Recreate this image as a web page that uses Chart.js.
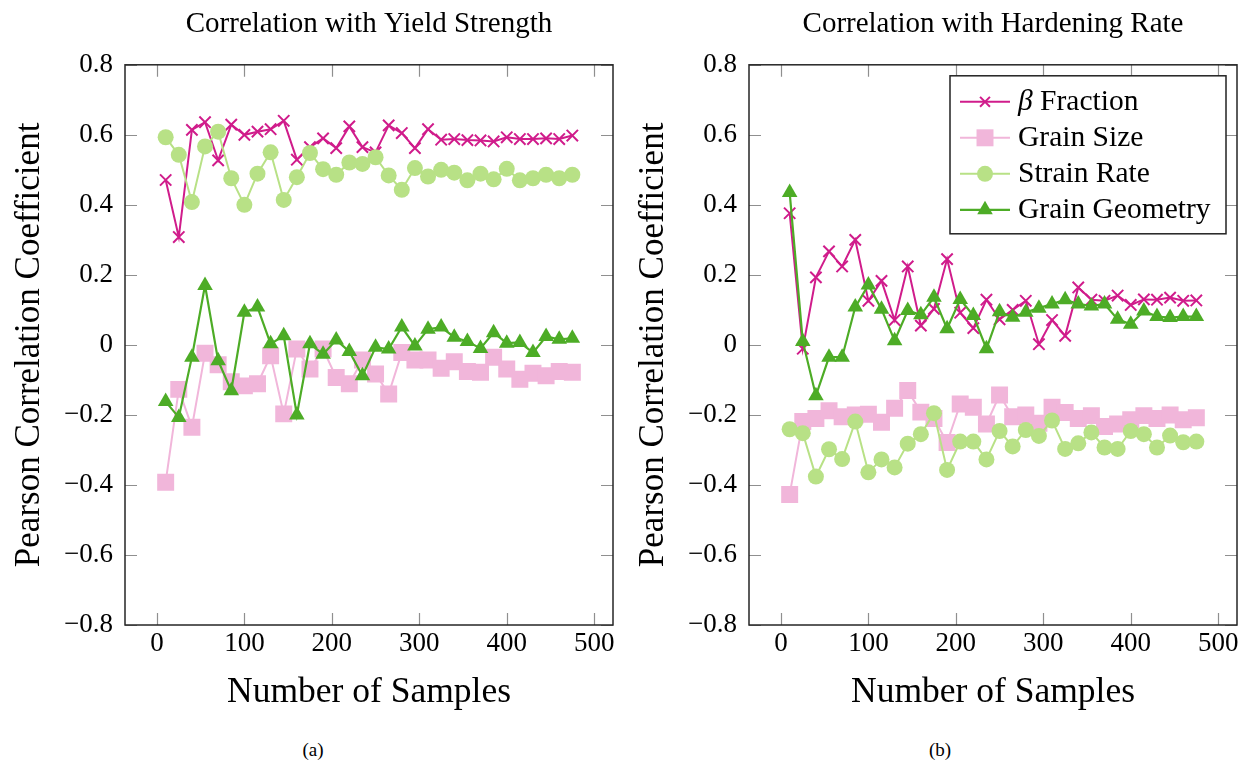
<!DOCTYPE html>
<html lang="en">
<head>
    <meta charset="UTF-8">
    <title>Correlation vs Number of Samples</title>
    <script src="https://cdn.jsdelivr.net/npm/chart.js"></script>
    <style>
        body { margin: 0; background: #fff; width: 1250px; height: 769px; position: relative; overflow: hidden; font-family: "Liberation Serif", serif; }
        .panel { position: absolute; top: 0; width: 625px; height: 720px; }
        .caption { position: absolute; top: 739px; width: 60px; margin-left: -30px; text-align: center; font-size: 19px; color: #000; }
    </style>
</head>
<body>
    <div class="panel" style="left:0"><canvas id="yieldChart"></canvas></div>
    <div class="panel" style="left:624px"><canvas id="hardeningChart"></canvas></div>
    <div class="caption" style="left:313px">(a)</div>
    <div class="caption" style="left:940px">(b)</div>

    <script>
        // x values (number of samples)
        const samples = [10, 25, 40, 55, 70, 85, 100, 115, 130, 145, 160, 175, 190, 205, 220, 235,
                         250, 265, 280, 295, 310, 325, 340, 355, 370, 385, 400, 415, 430, 445, 460, 475];
        const xTicks = [0, 100, 200, 300, 400, 500];
        const yTicks = [-0.8, -0.6, -0.4, -0.2, 0, 0.2, 0.4, 0.6, 0.8];
        const seriesNames = ['β Fraction', 'Grain Size', 'Strain Rate', 'Grain Geometry'];

        // (a) correlation with yield strength
        const yieldBeta = [0.471, 0.308, 0.614, 0.636, 0.527, 0.629, 0.600, 0.609, 0.616, 0.640, 0.529, 0.565, 0.590, 0.562, 0.624, 0.565,
                           0.550, 0.627, 0.605, 0.562, 0.616, 0.586, 0.588, 0.585, 0.584, 0.581, 0.593, 0.588, 0.588, 0.590, 0.588, 0.598];
        const yieldSize = [-0.392, -0.127, -0.235, -0.024, -0.057, -0.105, -0.117, -0.111, -0.031, -0.197, -0.012, -0.069, -0.012, -0.093, -0.111, -0.043,
                           -0.083, -0.140, -0.022, -0.043, -0.043, -0.067, -0.048, -0.076, -0.078, -0.035, -0.069, -0.098, -0.081, -0.088, -0.076, -0.078];
        const yieldRate = [0.593, 0.543, 0.408, 0.567, 0.609, 0.476, 0.400, 0.489, 0.550, 0.414, 0.479, 0.548, 0.502, 0.486, 0.521, 0.517,
                           0.536, 0.484, 0.443, 0.505, 0.481, 0.500, 0.492, 0.470, 0.489, 0.473, 0.503, 0.470, 0.476, 0.486, 0.476, 0.486];
        const yieldGeom = [-0.162, -0.207, -0.035, 0.170, -0.045, -0.131, 0.093, 0.108, 0.003, 0.026, -0.200, 0.003, -0.027, 0.014, -0.019, -0.088,
                           -0.007, -0.012, 0.051, -0.003, 0.045, 0.051, 0.022, 0.010, -0.010, 0.035, 0.005, 0.007, -0.022, 0.024, 0.016, 0.019];

        // (b) correlation with hardening rate
        const hardBeta = [0.376, -0.011, 0.193, 0.267, 0.224, 0.300, 0.126, 0.183, 0.071, 0.224, 0.055, 0.103, 0.245, 0.092, 0.048, 0.129,
                          0.073, 0.100, 0.126, 0.002, 0.071, 0.026, 0.164, 0.129, 0.126, 0.141, 0.114, 0.130, 0.129, 0.135, 0.126, 0.127];
        const hardSize = [-0.427, -0.219, -0.210, -0.188, -0.205, -0.200, -0.198, -0.221, -0.181, -0.130, -0.192, -0.210, -0.279, -0.169, -0.178, -0.226,
                          -0.143, -0.205, -0.200, -0.224, -0.178, -0.193, -0.210, -0.202, -0.233, -0.226, -0.214, -0.202, -0.210, -0.200, -0.214, -0.208];
        const hardRate = [-0.241, -0.252, -0.376, -0.298, -0.326, -0.219, -0.364, -0.327, -0.350, -0.282, -0.255, -0.195, -0.357, -0.276, -0.276, -0.327,
                          -0.246, -0.290, -0.243, -0.260, -0.216, -0.297, -0.281, -0.250, -0.293, -0.297, -0.246, -0.255, -0.293, -0.259, -0.278, -0.276];
        const hardGeom = [0.435, 0.010, -0.145, -0.035, -0.035, 0.108, 0.171, 0.102, 0.012, 0.098, 0.086, 0.136, 0.046, 0.130, 0.084, -0.011,
                          0.095, 0.079, 0.093, 0.105, 0.117, 0.129, 0.117, 0.111, 0.117, 0.073, 0.059, 0.097, 0.081, 0.078, 0.081, 0.081];

        const FONT = '"Liberation Serif", "Times New Roman", serif';
        const styles = [
            { color: '#d01c8b', pointStyle: 'crossRot', radius: 8, pointBorderWidth: 2, lineWidth: 2, order: 4 },
            { color: '#f1b6da', pointStyle: 'rect', radius: 12, pointBorderWidth: 0, lineWidth: 2, order: 3 },
            { color: '#b8e186', pointStyle: 'circle', radius: 8, pointBorderWidth: 0, lineWidth: 2, order: 2 },
            { color: '#4dac26', pointStyle: 'triangle', radius: 9, pointBorderWidth: 0, lineWidth: 2.2, order: 1 }
        ];

        function makeDatasets(seriesList) {
            return seriesList.map((vals, i) => {
                const s = styles[i];
                return {
                    label: seriesNames[i],
                    data: samples.map((x, j) => ({ x: x, y: vals[j] })),
                    borderColor: s.color,
                    backgroundColor: s.color,
                    borderWidth: s.lineWidth,
                    pointStyle: s.pointStyle,
                    pointRadius: s.radius,
                    pointBorderWidth: s.pointBorderWidth,
                    pointBorderColor: s.color,
                    pointBackgroundColor: s.color,
                    tension: 0,
                    order: s.order
                };
            });
        }

        function fmtY(v) {
            if (Math.abs(v) < 1e-9) return '0';
            return (v < 0 ? '\u2212' : '') + Math.abs(v).toFixed(1);
        }

        // tick marks inside the frame (all four sides) plus the box
        const innerTicks = {
            id: 'innerTicks',
            afterDraw(chart) {
                const { ctx, chartArea: a, scales: { x, y } } = chart;
                ctx.save();
                ctx.strokeStyle = '#8f8f8f';
                ctx.lineWidth = 1.2;
                ctx.beginPath();
                x.ticks.forEach(t => {
                    const px = Math.round(x.getPixelForValue(t.value)) + 0.5;
                    ctx.moveTo(px, a.bottom); ctx.lineTo(px, a.bottom - 12);
                    ctx.moveTo(px, a.top); ctx.lineTo(px, a.top + 12);
                });
                y.ticks.forEach(t => {
                    const py = Math.round(y.getPixelForValue(t.value)) + 0.5;
                    ctx.moveTo(a.left, py); ctx.lineTo(a.left + 12, py);
                    ctx.moveTo(a.right, py); ctx.lineTo(a.right - 12, py);
                });
                ctx.stroke();
                ctx.strokeStyle = '#262626';
                ctx.lineWidth = 1.5;
                ctx.strokeRect(a.left, a.top, a.width, a.height);
                ctx.restore();
            }
        };

        function drawMarker(ctx, style, x, y) {
            const r = style.radius;
            ctx.beginPath();
            if (style.pointStyle === 'crossRot') {
                const d = r * Math.SQRT1_2;
                ctx.moveTo(x - d, y - d); ctx.lineTo(x + d, y + d);
                ctx.moveTo(x - d, y + d); ctx.lineTo(x + d, y - d);
                ctx.lineWidth = style.pointBorderWidth;
                ctx.stroke();
                return;
            }
            if (style.pointStyle === 'rect') {
                const h = r * Math.SQRT1_2;
                ctx.rect(x - h, y - h, 2 * h, 2 * h);
            } else if (style.pointStyle === 'circle') {
                ctx.arc(x, y, r, 0, Math.PI * 2);
            } else {
                ctx.moveTo(x, y - r);
                ctx.lineTo(x + r * 0.866, y + r * 0.5);
                ctx.lineTo(x - r * 0.866, y + r * 0.5);
                ctx.closePath();
            }
            ctx.fill();
        }

        // legend box in the upper right corner of the plot area
        const boxLegend = {
            id: 'boxLegend',
            afterDraw(chart, args, opts) {
                if (!opts.show) return;
                const { ctx, chartArea: a } = chart;
                const w = 276, h = 158;
                const left = a.right - 11 - w, top = a.top + 11;
                ctx.save();
                ctx.fillStyle = '#fff';
                ctx.fillRect(left, top, w, h);
                ctx.strokeStyle = '#222';
                ctx.lineWidth = 1.5;
                ctx.strokeRect(left, top, w, h);
                seriesNames.forEach((name, i) => {
                    const s = styles[i];
                    const cy = top + 26 + i * 36;
                    ctx.strokeStyle = s.color;
                    ctx.fillStyle = s.color;
                    ctx.lineWidth = s.lineWidth;
                    ctx.beginPath();
                    ctx.moveTo(left + 10, cy); ctx.lineTo(left + 60, cy);
                    ctx.stroke();
                    drawMarker(ctx, i === 0 ? Object.assign({}, s, { radius: 7 }) : s, left + 35, cy);
                    ctx.fillStyle = '#000';
                    ctx.textBaseline = 'middle';
                    let tx = left + 68;
                    let text = name;
                    if (name.startsWith('β')) {
                        ctx.font = 'italic 29.5px ' + FONT;
                        ctx.fillText('β', tx, cy);
                        tx += ctx.measureText('β').width;
                        text = name.slice(1);
                    }
                    ctx.font = '29.5px ' + FONT;
                    ctx.fillText(text, tx, cy);
                });
                ctx.restore();
            }
        };

        function makeChart(id, title, seriesList, showLegend) {
            return new Chart(document.getElementById(id).getContext('2d'), {
                type: 'line',
                data: { datasets: makeDatasets(seriesList) },
                plugins: [innerTicks, boxLegend],
                options: {
                    responsive: true,
                    maintainAspectRatio: false,
                    animation: false,
                    layout: { padding: { left: 0, right: 11, top: 0, bottom: 0 } },
                    plugins: {
                        legend: { display: false },
                        tooltip: { enabled: false },
                        title: {
                            display: true,
                            fullSize: false,
                            text: title,
                            color: '#000',
                            font: { family: FONT, size: 29, weight: 'normal' },
                            padding: { top: 7, bottom: 23 }
                        },
                        boxLegend: { show: showLegend }
                    },
                    scales: {
                        x: {
                            type: 'linear',
                            min: -36.5,
                            max: 521.5,
                            afterFit: s => { s.height = 95; },
                            afterBuildTicks: s => { s.ticks = xTicks.map(v => ({ value: v })); },
                            grid: { display: false, drawTicks: false },
                            border: { display: false },
                            ticks: { color: '#000', padding: 3, maxRotation: 0, font: { family: FONT, size: 27 } },
                            title: {
                                display: true,
                                text: 'Number of Samples',
                                color: '#000',
                                font: { family: FONT, size: 35.5 },
                                padding: { top: 0, bottom: 6 }
                            }
                        },
                        y: {
                            min: -0.8,
                            max: 0.8,
                            afterFit: s => { s.width = 125; },
                            afterBuildTicks: s => { s.ticks = yTicks.map(v => ({ value: v })); },
                            grid: { display: false, drawTicks: false },
                            border: { display: false },
                            ticks: { color: '#000', padding: 12, font: { family: FONT, size: 27 }, callback: v => fmtY(v) },
                            title: {
                                display: true,
                                text: 'Pearson Correlation Coefficient',
                                color: '#000',
                                font: { family: FONT, size: 35 },
                                padding: { top: 9, bottom: 0 }
                            }
                        }
                    }
                }
            });
        }

        makeChart('yieldChart', 'Correlation with Yield Strength', [yieldBeta, yieldSize, yieldRate, yieldGeom], false);
        makeChart('hardeningChart', 'Correlation with Hardening Rate', [hardBeta, hardSize, hardRate, hardGeom], true);
    </script>
</body>
</html>
